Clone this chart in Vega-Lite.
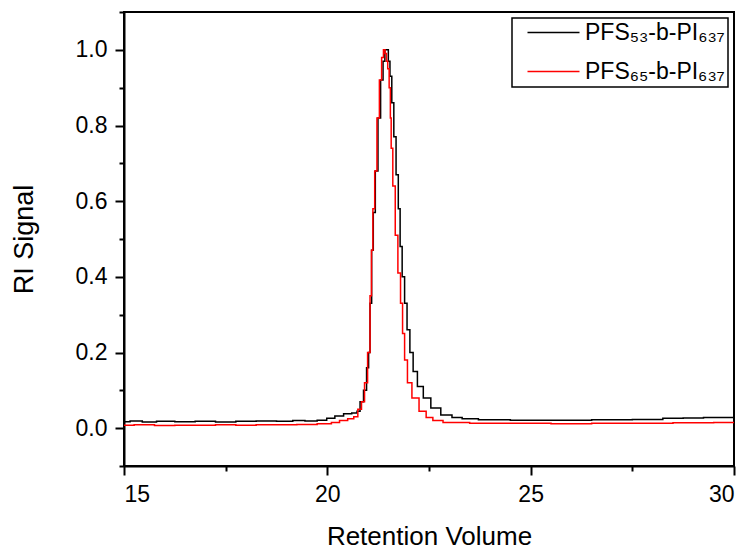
{
  "$schema": "https://vega.github.io/schema/vega-lite/v6.json",
  "width": 610,
  "height": 454,
  "autosize": {"type": "none"},
  "padding": {"left": 124, "top": 12, "right": 16, "bottom": 84},
  "background": "white",
  "config": {
    "font": "Liberation Sans",
    "view": {"stroke": "black", "strokeWidth": 2},
    "axis": {
      "grid": false,
      "domainColor": "black",
      "domainWidth": 2,
      "tickColor": "black",
      "tickWidth": 2,
      "labelColor": "black",
      "titleColor": "black",
      "titleFontWeight": "normal",
      "labelFontSize": 23,
      "titleFontSize": 27
    }
  },
  "data": {
    "values": [
      {"x": 15.0, "y": 0.017, "s": "PFS₅₃-b-PI₆₃₇"},
      {"x": 15.3, "y": 0.019, "s": "PFS₅₃-b-PI₆₃₇"},
      {"x": 15.6, "y": 0.016, "s": "PFS₅₃-b-PI₆₃₇"},
      {"x": 16.0, "y": 0.018, "s": "PFS₅₃-b-PI₆₃₇"},
      {"x": 16.5, "y": 0.017, "s": "PFS₅₃-b-PI₆₃₇"},
      {"x": 17.0, "y": 0.018, "s": "PFS₅₃-b-PI₆₃₇"},
      {"x": 17.5, "y": 0.016, "s": "PFS₅₃-b-PI₆₃₇"},
      {"x": 18.0, "y": 0.018, "s": "PFS₅₃-b-PI₆₃₇"},
      {"x": 18.5, "y": 0.019, "s": "PFS₅₃-b-PI₆₃₇"},
      {"x": 19.0, "y": 0.018, "s": "PFS₅₃-b-PI₆₃₇"},
      {"x": 19.3, "y": 0.020, "s": "PFS₅₃-b-PI₆₃₇"},
      {"x": 19.6, "y": 0.019, "s": "PFS₅₃-b-PI₆₃₇"},
      {"x": 19.9, "y": 0.021, "s": "PFS₅₃-b-PI₆₃₇"},
      {"x": 20.07, "y": 0.026, "s": "PFS₅₃-b-PI₆₃₇"},
      {"x": 20.3, "y": 0.032, "s": "PFS₅₃-b-PI₆₃₇"},
      {"x": 20.5, "y": 0.038, "s": "PFS₅₃-b-PI₆₃₇"},
      {"x": 20.7, "y": 0.040, "s": "PFS₅₃-b-PI₆₃₇"},
      {"x": 20.76, "y": 0.045, "s": "PFS₅₃-b-PI₆₃₇"},
      {"x": 20.85, "y": 0.07, "s": "PFS₅₃-b-PI₆₃₇"},
      {"x": 20.93, "y": 0.10, "s": "PFS₅₃-b-PI₆₃₇"},
      {"x": 21.0, "y": 0.16, "s": "PFS₅₃-b-PI₆₃₇"},
      {"x": 21.03, "y": 0.20, "s": "PFS₅₃-b-PI₆₃₇"},
      {"x": 21.07, "y": 0.33, "s": "PFS₅₃-b-PI₆₃₇"},
      {"x": 21.11, "y": 0.47, "s": "PFS₅₃-b-PI₆₃₇"},
      {"x": 21.15, "y": 0.57, "s": "PFS₅₃-b-PI₆₃₇"},
      {"x": 21.21, "y": 0.68, "s": "PFS₅₃-b-PI₆₃₇"},
      {"x": 21.28, "y": 0.82, "s": "PFS₅₃-b-PI₆₃₇"},
      {"x": 21.34, "y": 0.92, "s": "PFS₅₃-b-PI₆₃₇"},
      {"x": 21.40, "y": 0.97, "s": "PFS₅₃-b-PI₆₃₇"},
      {"x": 21.43, "y": 1.0, "s": "PFS₅₃-b-PI₆₃₇"},
      {"x": 21.48, "y": 1.0, "s": "PFS₅₃-b-PI₆₃₇"},
      {"x": 21.52, "y": 0.97, "s": "PFS₅₃-b-PI₆₃₇"},
      {"x": 21.56, "y": 0.93, "s": "PFS₅₃-b-PI₆₃₇"},
      {"x": 21.61, "y": 0.86, "s": "PFS₅₃-b-PI₆₃₇"},
      {"x": 21.66, "y": 0.77, "s": "PFS₅₃-b-PI₆₃₇"},
      {"x": 21.72, "y": 0.67, "s": "PFS₅₃-b-PI₆₃₇"},
      {"x": 21.77, "y": 0.58, "s": "PFS₅₃-b-PI₆₃₇"},
      {"x": 21.81, "y": 0.48, "s": "PFS₅₃-b-PI₆₃₇"},
      {"x": 21.87, "y": 0.40, "s": "PFS₅₃-b-PI₆₃₇"},
      {"x": 21.93, "y": 0.33, "s": "PFS₅₃-b-PI₆₃₇"},
      {"x": 21.99, "y": 0.26, "s": "PFS₅₃-b-PI₆₃₇"},
      {"x": 22.07, "y": 0.20, "s": "PFS₅₃-b-PI₆₃₇"},
      {"x": 22.15, "y": 0.15, "s": "PFS₅₃-b-PI₆₃₇"},
      {"x": 22.28, "y": 0.11, "s": "PFS₅₃-b-PI₆₃₇"},
      {"x": 22.44, "y": 0.08, "s": "PFS₅₃-b-PI₆₃₇"},
      {"x": 22.65, "y": 0.053, "s": "PFS₅₃-b-PI₆₃₇"},
      {"x": 22.93, "y": 0.035, "s": "PFS₅₃-b-PI₆₃₇"},
      {"x": 23.2, "y": 0.028, "s": "PFS₅₃-b-PI₆₃₇"},
      {"x": 23.43, "y": 0.025, "s": "PFS₅₃-b-PI₆₃₇"},
      {"x": 24.0, "y": 0.022, "s": "PFS₅₃-b-PI₆₃₇"},
      {"x": 25.0, "y": 0.021, "s": "PFS₅₃-b-PI₆₃₇"},
      {"x": 26.0, "y": 0.021, "s": "PFS₅₃-b-PI₆₃₇"},
      {"x": 27.0, "y": 0.022, "s": "PFS₅₃-b-PI₆₃₇"},
      {"x": 28.0, "y": 0.023, "s": "PFS₅₃-b-PI₆₃₇"},
      {"x": 28.5, "y": 0.026, "s": "PFS₅₃-b-PI₆₃₇"},
      {"x": 29.0, "y": 0.027, "s": "PFS₅₃-b-PI₆₃₇"},
      {"x": 29.5, "y": 0.028, "s": "PFS₅₃-b-PI₆₃₇"},
      {"x": 30.0, "y": 0.028, "s": "PFS₅₃-b-PI₆₃₇"},
      {"x": 15.0, "y": 0.008, "s": "PFS₆₅-b-PI₆₃₇"},
      {"x": 15.5, "y": 0.009, "s": "PFS₆₅-b-PI₆₃₇"},
      {"x": 16.0, "y": 0.007, "s": "PFS₆₅-b-PI₆₃₇"},
      {"x": 16.5, "y": 0.008, "s": "PFS₆₅-b-PI₆₃₇"},
      {"x": 17.0, "y": 0.008, "s": "PFS₆₅-b-PI₆₃₇"},
      {"x": 17.5, "y": 0.009, "s": "PFS₆₅-b-PI₆₃₇"},
      {"x": 18.0, "y": 0.008, "s": "PFS₆₅-b-PI₆₃₇"},
      {"x": 18.5, "y": 0.009, "s": "PFS₆₅-b-PI₆₃₇"},
      {"x": 19.0, "y": 0.009, "s": "PFS₆₅-b-PI₆₃₇"},
      {"x": 19.5, "y": 0.010, "s": "PFS₆₅-b-PI₆₃₇"},
      {"x": 20.0, "y": 0.012, "s": "PFS₆₅-b-PI₆₃₇"},
      {"x": 20.2, "y": 0.015, "s": "PFS₆₅-b-PI₆₃₇"},
      {"x": 20.4, "y": 0.020, "s": "PFS₆₅-b-PI₆₃₇"},
      {"x": 20.6, "y": 0.025, "s": "PFS₆₅-b-PI₆₃₇"},
      {"x": 20.7, "y": 0.030, "s": "PFS₆₅-b-PI₆₃₇"},
      {"x": 20.8, "y": 0.05, "s": "PFS₆₅-b-PI₆₃₇"},
      {"x": 20.88, "y": 0.07, "s": "PFS₆₅-b-PI₆₃₇"},
      {"x": 20.95, "y": 0.12, "s": "PFS₆₅-b-PI₆₃₇"},
      {"x": 21.03, "y": 0.20, "s": "PFS₆₅-b-PI₆₃₇"},
      {"x": 21.07, "y": 0.35, "s": "PFS₆₅-b-PI₆₃₇"},
      {"x": 21.10, "y": 0.47, "s": "PFS₆₅-b-PI₆₃₇"},
      {"x": 21.14, "y": 0.58, "s": "PFS₆₅-b-PI₆₃₇"},
      {"x": 21.19, "y": 0.68, "s": "PFS₆₅-b-PI₆₃₇"},
      {"x": 21.25, "y": 0.82, "s": "PFS₆₅-b-PI₆₃₇"},
      {"x": 21.31, "y": 0.92, "s": "PFS₆₅-b-PI₆₃₇"},
      {"x": 21.36, "y": 0.98, "s": "PFS₆₅-b-PI₆₃₇"},
      {"x": 21.40, "y": 1.0, "s": "PFS₆₅-b-PI₆₃₇"},
      {"x": 21.44, "y": 0.99, "s": "PFS₆₅-b-PI₆₃₇"},
      {"x": 21.47, "y": 0.97, "s": "PFS₆₅-b-PI₆₃₇"},
      {"x": 21.50, "y": 0.95, "s": "PFS₆₅-b-PI₆₃₇"},
      {"x": 21.54, "y": 0.90, "s": "PFS₆₅-b-PI₆₃₇"},
      {"x": 21.56, "y": 0.82, "s": "PFS₆₅-b-PI₆₃₇"},
      {"x": 21.58, "y": 0.74, "s": "PFS₆₅-b-PI₆₃₇"},
      {"x": 21.64, "y": 0.64, "s": "PFS₆₅-b-PI₆₃₇"},
      {"x": 21.70, "y": 0.51, "s": "PFS₆₅-b-PI₆₃₇"},
      {"x": 21.77, "y": 0.41, "s": "PFS₆₅-b-PI₆₃₇"},
      {"x": 21.83, "y": 0.33, "s": "PFS₆₅-b-PI₆₃₇"},
      {"x": 21.87, "y": 0.25, "s": "PFS₆₅-b-PI₆₃₇"},
      {"x": 21.93, "y": 0.18, "s": "PFS₆₅-b-PI₆₃₇"},
      {"x": 22.01, "y": 0.12, "s": "PFS₆₅-b-PI₆₃₇"},
      {"x": 22.15, "y": 0.08, "s": "PFS₆₅-b-PI₆₃₇"},
      {"x": 22.36, "y": 0.045, "s": "PFS₆₅-b-PI₆₃₇"},
      {"x": 22.5, "y": 0.028, "s": "PFS₆₅-b-PI₆₃₇"},
      {"x": 22.69, "y": 0.020, "s": "PFS₆₅-b-PI₆₃₇"},
      {"x": 23.0, "y": 0.015, "s": "PFS₆₅-b-PI₆₃₇"},
      {"x": 24.0, "y": 0.013, "s": "PFS₆₅-b-PI₆₃₇"},
      {"x": 25.0, "y": 0.013, "s": "PFS₆₅-b-PI₆₃₇"},
      {"x": 26.0, "y": 0.012, "s": "PFS₆₅-b-PI₆₃₇"},
      {"x": 27.0, "y": 0.013, "s": "PFS₆₅-b-PI₆₃₇"},
      {"x": 28.0, "y": 0.013, "s": "PFS₆₅-b-PI₆₃₇"},
      {"x": 29.0, "y": 0.014, "s": "PFS₆₅-b-PI₆₃₇"},
      {"x": 30.0, "y": 0.015, "s": "PFS₆₅-b-PI₆₃₇"}
    ]
  },
  "mark": {"type": "line", "strokeWidth": 1.5, "clip": true, "interpolate": "step"},
  "encoding": {
    "x": {
      "field": "x",
      "type": "quantitative",
      "scale": {"domain": [15, 30], "nice": false, "zero": false},
      "axis": {
        "title": "Retention Volume",
        "titleFontSize": 26,
        "values": [15, 17.5, 20, 22.5, 25, 27.5, 30],
        "tickSize": {"condition": {"test": "datum.value % 5 === 0", "value": 9}, "value": 5},
        "labelExpr": "datum.value % 5 === 0 ? datum.label : ''",
        "labelPadding": 8,
        "titlePadding": 17
      }
    },
    "y": {
      "field": "y",
      "type": "quantitative",
      "scale": {"domain": [-0.1, 1.1], "nice": false, "zero": false},
      "axis": {
        "title": "RI Signal",
        "values": [-0.1, 0, 0.1, 0.2, 0.3, 0.4, 0.5, 0.6, 0.7, 0.8, 0.9, 1.0, 1.1],
        "format": ".1f",
        "tickSize": {"condition": {"test": "round(datum.value * 10) % 2 === 0", "value": 9}, "value": 5},
        "labelExpr": "round(datum.value * 10) % 2 === 0 ? datum.label : ''",
        "labelPadding": 8,
        "titlePadding": 37
      }
    },
    "color": {
      "field": "s",
      "type": "nominal",
      "scale": {"domain": ["PFS₅₃-b-PI₆₃₇", "PFS₆₅-b-PI₆₃₇"], "range": ["black", "red"]},
      "legend": {
        "title": null,
        "orient": "top-right",
        "offset": 6,
        "strokeColor": "black",
        "fillColor": "white",
        "cornerRadius": 0,
        "padding": 3,
        "symbolType": "M-2.6,0H2.6",
        "symbolSize": 400,
        "symbolOffset": 27,
        "symbolStrokeWidth": 1.5,
        "labelFontSize": 23,
        "labelColor": "black",
        "labelOffset": 20,
        "rowPadding": 15,
        "labelLimit": 300,
        "encode": {"legend": {"update": {"strokeWidth": {"value": 1.5}}}}
      }
    }
  }
}
